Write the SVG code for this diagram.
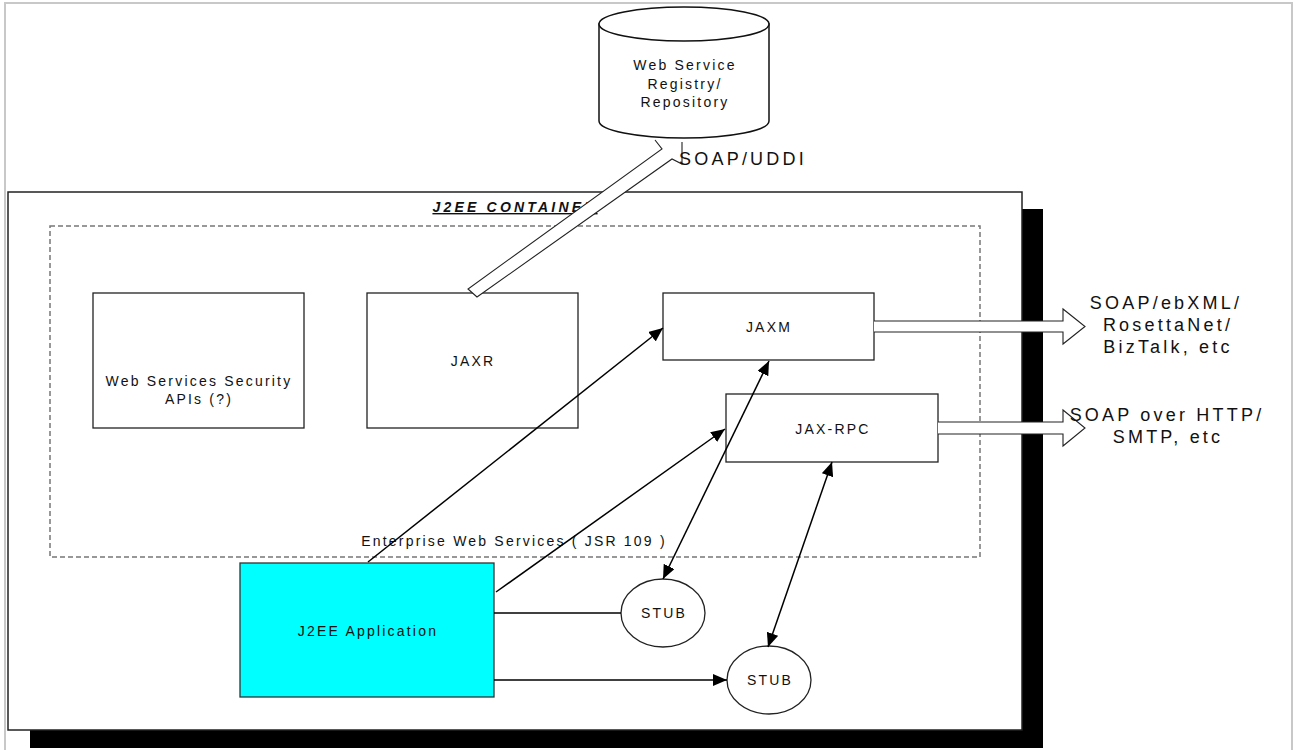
<svg xmlns="http://www.w3.org/2000/svg" width="1298" height="750" viewBox="0 0 1298 750">
  <style>
    text { font-family: "Liberation Sans", Arial, sans-serif; fill: #111; }
    .lbl { font-size: 14px; letter-spacing: 2.2px; text-anchor: middle; }
    .big { font-size: 18px; letter-spacing: 3.2px; text-anchor: middle; }
    .box { fill: #fff; stroke: #222; stroke-width: 1.3; }
    .line { fill: none; stroke: #000; stroke-width: 1.5; }
    .hollow { fill: #fff; stroke: #222; stroke-width: 1.1; }
  </style>
  <defs>
    <marker id="head" markerUnits="userSpaceOnUse" markerWidth="15" markerHeight="12" refX="14" refY="6" orient="auto-start-reverse">
      <path d="M0,0 L14,6 L0,12 z" fill="#000"/>
    </marker>
  </defs>

  <!-- page frame -->
  <rect x="5" y="3" width="1287" height="770" fill="#fff" stroke="#c8c8c8" stroke-width="2"/>

  <!-- container with drop shadow -->
  <g id="container">
    <rect x="30" y="209" width="1013" height="539" fill="#000"/>
    <rect x="8" y="192" width="1014" height="538" fill="#fff" stroke="#222" stroke-width="1.5"/>
    <text x="515" y="212" font-size="14" font-weight="bold" font-style="italic" letter-spacing="3.2" text-anchor="middle" text-decoration="underline">J2EE CONTAINER</text>
  </g>

  <!-- enterprise web services boundary -->
  <g id="enterprise-ws">
    <rect x="50" y="226" width="930" height="331" fill="none" stroke="#777" stroke-width="1.5" stroke-dasharray="5 3"/>
    <text class="lbl" x="514" y="546" font-size="13">Enterprise Web Services ( JSR 109 )</text>
  </g>

  <g id="security">
    <rect class="box" x="93" y="293" width="211" height="135"/>
    <text class="lbl" x="199" y="386">Web Services Security</text>
    <text class="lbl" x="199" y="404">APIs (?)</text>
  </g>

  <g id="jaxr">
    <rect class="box" x="367" y="293" width="211" height="135"/>
    <text class="lbl" x="473" y="366">JAXR</text>
  </g>

  <g id="jaxm">
    <rect class="box" x="663" y="293" width="211" height="67"/>
    <text class="lbl" x="769" y="332">JAXM</text>
  </g>

  <g id="jaxrpc">
    <rect class="box" x="726" y="394" width="212" height="68"/>
    <text class="lbl" x="833" y="434">JAX-RPC</text>
  </g>

  <g id="j2ee-app">
    <rect x="240" y="563" width="254" height="134" fill="#00ffff" stroke="#333" stroke-width="1.3"/>
    <text class="lbl" x="368" y="636">J2EE Application</text>
  </g>

  <g id="stub1">
    <ellipse cx="663" cy="613" rx="42" ry="34" class="box"/>
    <text class="lbl" x="664" y="618">STUB</text>
  </g>

  <g id="stub2">
    <ellipse cx="769" cy="680" rx="42" ry="34" class="box"/>
    <text class="lbl" x="770" y="685">STUB</text>
  </g>

  <g id="connectors">
    <!-- registry link band -->
    <path class="hollow" d="M655,140 L662,149 L468,289 L477,297 L672,159 L682,164 L682,142"/>

    <!-- outbound protocol arrows -->
    <path class="hollow" d="M874,321 L1063,321 L1063,309 L1085,326.5 L1063,344 L1063,332 L874,332"/>
    <path class="hollow" d="M938,422 L1063,422 L1063,410 L1085,428 L1063,446 L1063,434 L938,434"/>

    <line class="line" x1="368" y1="562" x2="663" y2="328" marker-end="url(#head)"/>
    <line class="line" x1="496" y1="592" x2="725" y2="429" marker-end="url(#head)"/>
    <line class="line" x1="494" y1="613" x2="621" y2="613"/>
    <line class="line" x1="494" y1="680" x2="727" y2="680" marker-end="url(#head)"/>
    <line class="line" x1="769" y1="361" x2="663" y2="579" marker-start="url(#head)" marker-end="url(#head)"/>
    <line class="line" x1="832" y1="462" x2="768" y2="647" marker-start="url(#head)" marker-end="url(#head)"/>
  </g>

  <!-- registry cylinder -->
  <g id="registry">
    <path d="M599,24 V121 A85,17 0 0 0 769,121 V24 Z" fill="#fff" stroke="#111" stroke-width="1.5"/>
    <ellipse cx="684" cy="24" rx="85" ry="17" fill="#fff" stroke="#111" stroke-width="1.5"/>
    <text class="lbl" x="685" y="70">Web Service</text>
    <text class="lbl" x="685" y="89">Registry/</text>
    <text class="lbl" x="685" y="107">Repository</text>
  </g>

  <text class="big" x="743" y="165">SOAP/UDDI</text>

  <g id="protocol-labels">
    <text class="big" x="1166" y="309">SOAP/ebXML/</text>
    <text class="big" x="1168" y="331">RosettaNet/</text>
    <text class="big" x="1168" y="353">BizTalk, etc</text>
    <text class="big" x="1167" y="421">SOAP over HTTP/</text>
    <text class="big" x="1168" y="443">SMTP, etc</text>
  </g>
</svg>
